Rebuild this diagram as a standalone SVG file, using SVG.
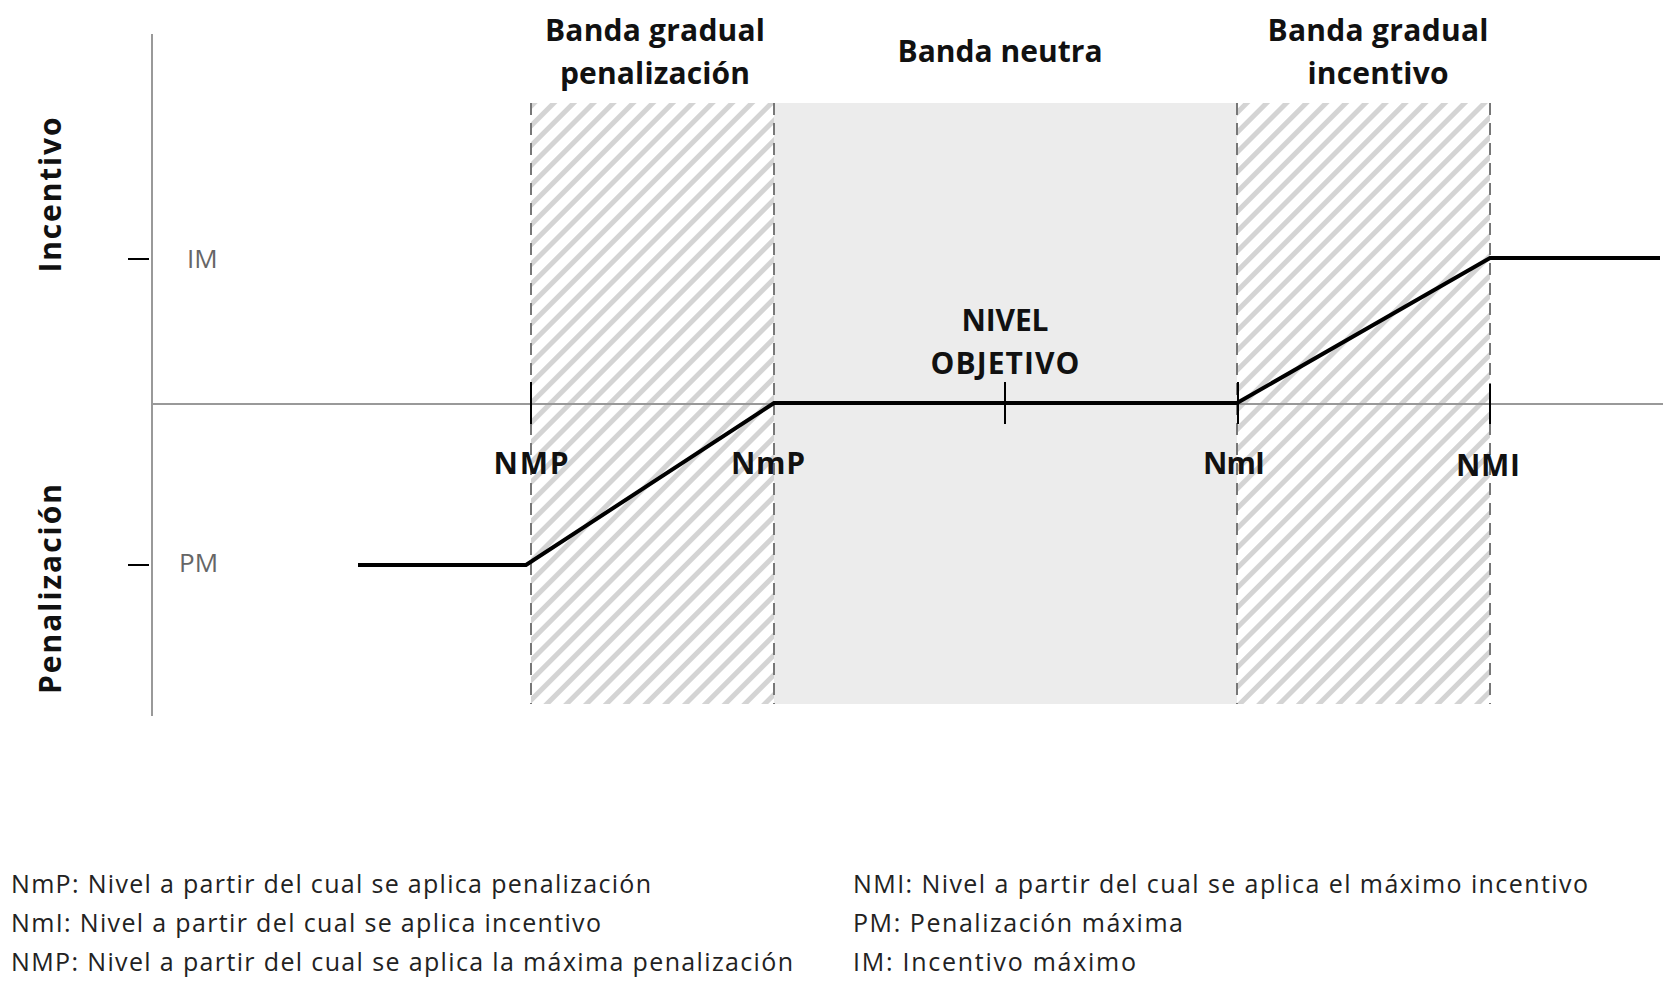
<svg xmlns="http://www.w3.org/2000/svg" width="1669" height="993" viewBox="0 0 1669 993">
<style>
.h{font-family:"Open Sans","Liberation Sans",sans-serif;font-weight:bold;font-size:30px;fill:#111;text-anchor:middle}
.l{font-family:"Open Sans","Liberation Sans",sans-serif;font-size:25px;fill:#222}
.g{font-family:"Open Sans","Liberation Sans",sans-serif;font-size:26px;fill:#666}
.dash{stroke:#777;stroke-width:2;stroke-dasharray:12,8}
.tick{stroke:#000;stroke-width:2}
</style>
<defs>
<pattern id="hatch" width="14" height="14" patternUnits="userSpaceOnUse" patternTransform="rotate(45)">
<rect width="14" height="14" fill="#fff"/>
<rect x="0" y="0" width="5" height="14" fill="#d4d4d4"/>
</pattern>
</defs>
<g id="bands">
<rect x="531" y="103" width="243" height="601" fill="url(#hatch)"/>
<rect x="774" y="103" width="463" height="601" fill="#ececec"/>
<rect x="1237" y="103" width="253" height="601" fill="url(#hatch)"/>
<line class="dash" x1="531" y1="103" x2="531" y2="704"/>
<line class="dash" x1="774" y1="103" x2="774" y2="704"/>
<line class="dash" x1="1237" y1="103" x2="1237" y2="704"/>
<line class="dash" x1="1490" y1="103" x2="1490" y2="704"/>
</g>
<g id="axes">
<line x1="152" y1="34" x2="152" y2="716" stroke="#999" stroke-width="2"/>
<line x1="152" y1="404" x2="1663" y2="404" stroke="#999" stroke-width="2"/>
<line class="tick" x1="128" y1="259" x2="149" y2="259"/>
<line class="tick" x1="128" y1="565" x2="149" y2="565"/>
<line class="tick" x1="531" y1="382" x2="531" y2="424"/>
<line class="tick" x1="1005" y1="382" x2="1005" y2="424"/>
<line class="tick" x1="1238" y1="382" x2="1238" y2="424"/>
<line class="tick" x1="1490" y1="384" x2="1490" y2="424"/>
</g>
<g id="connectors">
<polyline points="358,565 526,565 774,403 1237,403 1490,258 1660,258" fill="none" stroke="#000" stroke-width="4"/>
</g>
<g id="labels">
<text class="h" x="655" y="41" textLength="220">Banda gradual</text>
<text class="h" x="655" y="84" textLength="190">penalización</text>
<text class="h" x="1000" y="62" textLength="205">Banda neutra</text>
<text class="h" x="1378" y="41" textLength="221">Banda gradual</text>
<text class="h" x="1378" y="84" textLength="141">incentivo</text>
<text class="h" x="1005" y="331" textLength="87">NIVEL</text>
<text class="h" x="1005" y="374" textLength="149">OBJETIVO</text>
<text class="h" x="531" y="474" textLength="75">NMP</text>
<text class="h" x="768" y="474" textLength="74">NmP</text>
<text class="h" x="1234" y="474" textLength="62">NmI</text>
<text class="h" x="1488" y="476" textLength="64">NMI</text>
<text class="g" x="187" y="268">IM</text>
<text class="g" x="179" y="572">PM</text>
<text class="h" transform="translate(61,195) rotate(-90)" textLength="155">Incentivo</text>
<text class="h" transform="translate(61,589) rotate(-90)" textLength="210">Penalización</text>
</g>
<g id="legend">
<text class="l" x="11" y="893" textLength="640">NmP: Nivel a partir del cual se aplica penalización</text>
<text class="l" x="11" y="932" textLength="590">NmI: Nivel a partir del cual se aplica incentivo</text>
<text class="l" x="11" y="971" textLength="782">NMP: Nivel a partir del cual se aplica la máxima penalización</text>
<text class="l" x="853" y="893" textLength="735">NMI: Nivel a partir del cual se aplica el máximo incentivo</text>
<text class="l" x="853" y="932" textLength="330">PM: Penalización máxima</text>
<text class="l" x="853" y="971" textLength="283">IM: Incentivo máximo</text>
</g>
</svg>
